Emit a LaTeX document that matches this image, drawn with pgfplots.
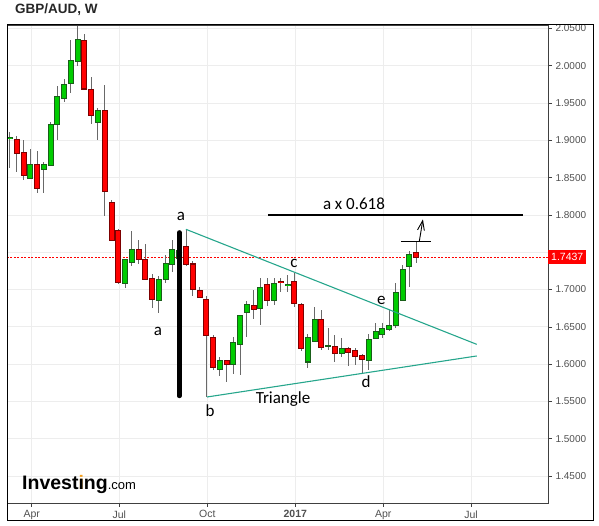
\documentclass[border=0pt]{standalone}
\usepackage{pgfplots}
\pgfplotsset{compat=1.18}
\usepackage{pgfplotstable}
\usepackage{fontspec}
\setmainfont{Liberation Sans}
\newfontfamily\annot{Carlito}
\definecolor{cgreen}{RGB}{0,204,0}
\definecolor{cgreenb}{RGB}{25,95,25}
\definecolor{cred}{RGB}{255,0,0}
\definecolor{credb}{RGB}{125,0,0}
\definecolor{wick}{RGB}{105,105,105}
\definecolor{tri}{RGB}{38,166,140}
\definecolor{tickgray}{RGB}{80,80,80}
\definecolor{logoorange}{RGB}{245,160,30}

\pgfplotstableread{
x o h l c
0 1.902 1.911 1.863 1.904
3 1.849 1.889 1.849 1.868
5 1.861 1.871 1.829 1.867
6 1.867 1.925 1.866 1.921
7 1.921 1.973 1.900 1.958
8 1.956 1.982 1.952 1.975
9 1.976 2.035 1.964 2.007
10 2.006 2.053 1.999 2.035
13 1.924 1.944 1.901 1.940
17 1.708 1.741 1.702 1.740
18 1.737 1.779 1.731 1.754
22 1.686 1.718 1.669 1.713
23 1.714 1.746 1.709 1.735
24 1.734 1.766 1.724 1.754
25 1.742 1.770 1.735 1.752
31 1.593 1.609 1.584 1.605
33 1.600 1.637 1.587 1.629
34 1.627 1.666 1.586 1.665
35 1.670 1.685 1.637 1.680
37 1.675 1.716 1.652 1.703
39 1.686 1.716 1.679 1.708
41 1.705 1.719 1.696 1.707
44 1.603 1.641 1.595 1.635
45 1.631 1.677 1.631 1.660
47 1.624 1.649 1.619 1.625
49 1.6145 1.635 1.610 1.621
53 1.6055 1.641 1.592 1.633
54 1.635 1.655 1.634 1.643
55 1.640 1.655 1.635 1.647
56 1.646 1.672 1.645 1.651
57 1.652 1.709 1.648 1.696
58 1.686 1.733 1.686 1.727
59 1.731 1.752 1.704 1.747
}\greencandles

\pgfplotstableread{
x o h l c
1 1.901 1.906 1.857 1.883
2 1.883 1.900 1.847 1.853
4 1.868 1.886 1.829 1.836
11 2.033 2.043 1.968 1.969
12 1.968 1.985 1.922 1.934
14 1.940 1.974 1.799 1.831
15 1.816 1.820 1.766 1.766
16 1.779 1.781 1.708 1.710
19 1.754 1.766 1.734 1.740
20 1.740 1.761 1.713 1.714
21 1.714 1.721 1.675 1.687
26 1.757 1.781 1.731 1.734
27 1.734 1.738 1.691 1.700
28 1.698 1.703 1.689 1.690
29 1.686 1.691 1.556 1.639
30 1.636 1.639 1.592 1.596
32 1.604 1.605 1.576 1.600
36 1.678 1.699 1.661 1.673
38 1.706 1.716 1.678 1.685
40 1.711 1.715 1.696 1.709
42 1.711 1.722 1.676 1.682
43 1.680 1.682 1.617 1.621
46 1.660 1.672 1.619 1.622
48 1.623 1.639 1.603 1.615
50 1.621 1.623 1.597 1.616
51 1.618 1.621 1.599 1.611
52 1.611 1.613 1.588 1.606
60 1.750 1.764 1.735 1.7437
}\redcandles

\pgfplotsset{
  candlebar/.style 2 args={draw=none, mark=none, forget plot,
    error bars/.cd, y dir=both, y explicit, error mark=none,
    error bar style={draw=#1, solid, line width=#2}},
}

\begin{document}
\begin{tikzpicture}[x=1pt,y=1pt]
\path[use as bounding box] (0,0) rectangle (599,526);
\begin{axis}[
  at={(7pt,23pt)}, anchor=south west,
  scale only axis, width=541pt, height=478pt,
  xmin=-0.44, xmax=79.47, ymin=1.4138, ymax=2.0546,
  clip=false,
  axis line style={draw=black!75, line width=0.8pt},
  xtick={3.205,16.14,29.14,42.14,55.14,68.09},
  xticklabels={Apr,Jul,Oct,\textbf{2017},Apr,Jul},
  xtick pos=lower,
  ytick={1.45,1.50,1.55,1.60,1.65,1.70,1.80,1.85,1.90,1.95,2.00,2.05},
  extra y ticks={1.75}, extra y tick labels={},
  extra y tick style={grid=major},
  ytick pos=right, yticklabel pos=right,
  tick align=outside, major tick length=4pt,
  tick style={draw=black!75, line width=0.6pt},
  grid=major, grid style={draw=black!7, line width=0.8pt},
  /pgf/number format/assume math mode=true,
  yticklabel style={font=\fontsize{10}{12}\selectfont, text=tickgray,
    /pgf/number format/fixed, /pgf/number format/fixed zerofill,
    /pgf/number format/precision=4},
  xticklabel style={font=\fontsize{10.5}{12}\selectfont, text=tickgray},
]
% last price line
\draw[cred, line width=0.8pt, dash pattern=on 2pt off 1.5pt] (axis cs:-0.44,1.7437) -- (axis cs:79.47,1.7437);

% wicks
\addplot[candlebar={wick}{1pt}]
  table[x=x, y expr={(\thisrow{h}+\thisrow{l})/2}, y error expr={(\thisrow{h}-\thisrow{l})/2}] {\greencandles};
\addplot[candlebar={wick}{1pt}]
  table[x=x, y expr={(\thisrow{h}+\thisrow{l})/2}, y error expr={(\thisrow{h}-\thisrow{l})/2}] {\redcandles};

% bodies
\addplot[candlebar={cgreenb}{6pt}]
  table[x=x, y expr={(\thisrow{o}+\thisrow{c})/2}, y error expr={abs(\thisrow{c}-\thisrow{o})/2+0.0009}] {\greencandles};
\addplot[candlebar={cgreen}{4pt}]
  table[x=x, y expr={(\thisrow{o}+\thisrow{c})/2}, y error expr={max(abs(\thisrow{c}-\thisrow{o})/2-0.0005,0)}] {\greencandles};
\addplot[candlebar={credb}{6pt}]
  table[x=x, y expr={(\thisrow{o}+\thisrow{c})/2}, y error expr={abs(\thisrow{c}-\thisrow{o})/2+0.0009}] {\redcandles};
\addplot[candlebar={cred}{4pt}]
  table[x=x, y expr={(\thisrow{o}+\thisrow{c})/2}, y error expr={max(abs(\thisrow{c}-\thisrow{o})/2-0.0005,0)}] {\redcandles};

% annotations
\draw[black, line width=4.5pt, line cap=round] (axis cs:25.01,1.7765) -- (axis cs:25.01,1.5573);
\draw[tri, line width=1.1pt] (axis cs:25.99,1.7807) -- (axis cs:68.94,1.6265);
\draw[tri, line width=1.1pt] (axis cs:29.10,1.5559) -- (axis cs:68.94,1.6109);
\draw[black, line width=1.1pt] (axis cs:38.11,1.7999) -- (axis cs:75.82,1.7999);
\draw[black, line width=1.1pt] (axis cs:57.75,1.7646) -- (axis cs:62.14,1.7646);
\draw[black, line width=0.9pt] (axis cs:60.46,1.7646) -- (axis cs:60.96,1.7922);
\draw[black, line width=0.9pt] (axis cs:60.20,1.7800) -- (axis cs:60.96,1.7922) -- (axis cs:61.20,1.7790);

\begin{scope}[every node/.style={font=\annot\fontsize{17}{17}\selectfont, text=black, inner sep=0pt}]
\node at (axis cs:25.26,1.7979) {a};
\node at (axis cs:21.86,1.6444) {a};
\node at (axis cs:29.54,1.5371) {b};
\node at (axis cs:41.95,1.7355) {c};
\node at (axis cs:52.59,1.5760) {d};
\node at (axis cs:54.87,1.6859) {e};
\node at (axis cs:40.33,1.5532) {Triangle};
\node at (axis cs:50.81,1.8153) {a x 0.618};
\end{scope}

% last price label
\node[fill=cred, text=white, anchor=west, inner xsep=3pt, inner ysep=0pt, minimum height=14pt,
  font=\fontsize{10.5}{12}\selectfont] at (axis cs:79.47,1.7437) {1.7437};
\end{axis}

% outer frame
\draw[black, line width=1pt] (7,5) -- (593,5) -- (593,501) -- (7,501) -- cycle;

% title
\node[anchor=west, inner sep=0pt, font=\bfseries\fontsize{13.5}{14}\selectfont, text=black!85] at (15,516.5) {GBP/AUD, W};

% logo
\node[anchor=base west, inner sep=0pt] at (22,36.7) {\fontsize{19.5}{19}\selectfont\bfseries Invest\ooalign{\textcolor{logoorange}{i}\cr\i\cr}ng\fontsize{13}{13}\selectfont\mdseries .com};
\end{tikzpicture}
\end{document}
